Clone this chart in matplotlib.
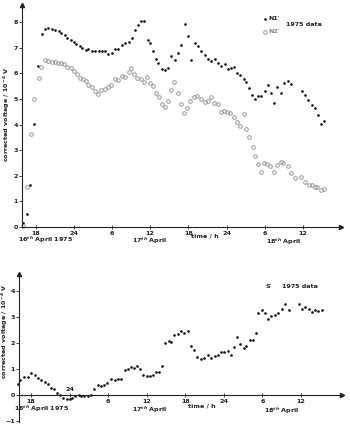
import matplotlib
matplotlib.use("Agg")
import matplotlib.pyplot as plt

# time in hours counted from 00:00 on 16 April 1975; values in 10^-4 V
n1_t = [16.0, 16.6, 17.15, 17.8, 18.4, 19.0, 19.5, 20.0, 20.5, 21.0, 21.6, 22.0, 22.6, 23.0,
        23.5, 24.0, 24.4, 24.9, 25.3, 25.9, 26.3, 26.9, 27.3, 27.9, 28.4, 28.9, 29.4, 30.0,
        30.4, 31.0, 31.5, 32.0, 32.6, 33.1, 33.6, 34.1, 34.6, 35.1, 35.6, 36.0, 36.5, 36.9,
        37.3, 37.9, 38.3, 38.8, 39.3, 39.9, 40.4, 40.9, 41.4, 41.9, 42.4, 43.0, 43.5, 44.0,
        44.6, 45.1, 45.6, 46.2, 46.7, 47.2, 47.7, 48.2, 48.7, 49.2, 49.7, 50.2, 50.7, 51.1,
        51.6, 52.0, 52.5, 53.0, 53.5, 54.0, 54.5, 55.0, 55.5, 56.0, 56.5, 57.1, 57.6, 58.2,
        59.8, 60.3, 60.8, 61.4, 61.9, 62.4, 62.8, 63.3]
n1_v = [0.16, 0.51, 1.64, 4.02, 6.30, 7.54, 7.73, 7.79, 7.72, 7.70, 7.66, 7.59, 7.50, 7.40,
        7.30, 7.24, 7.15, 7.06, 6.98, 6.93, 6.95, 6.89, 6.88, 6.89, 6.89, 6.88, 6.76, 6.80,
        6.94, 6.94, 7.11, 7.19, 7.24, 7.39, 7.71, 7.88, 8.05, 8.05, 7.30, 7.17, 6.88, 6.55,
        6.39, 6.18, 6.12, 6.21, 6.68, 6.54, 6.81, 7.12, 7.92, 7.47, 6.52, 7.17, 7.07, 6.88,
        6.71, 6.55, 6.50, 6.55, 6.42, 6.28, 6.38, 6.16, 6.21, 6.24, 6.03, 5.95, 5.78, 5.66,
        5.44, 5.16, 5.00, 5.10, 5.12, 5.32, 5.56, 5.25, 4.84, 5.46, 5.22, 5.63, 5.70, 5.59,
        5.31, 5.16, 4.96, 4.78, 4.66, 4.38, 4.04, 4.14]

n2_t = [16.0, 16.7, 17.2, 17.8, 18.5, 18.9, 19.5, 20.0, 20.5, 21.0, 21.5, 22.0, 22.5, 23.0,
        23.5, 24.0, 24.5, 25.0, 25.4, 25.9, 26.3, 26.8, 27.3, 27.8, 28.3, 28.9, 29.4, 29.9,
        30.5, 30.9, 31.5, 32.0, 32.6, 33.0, 33.5, 34.0, 34.5, 35.0, 35.5, 35.9, 36.4, 36.9,
        37.4, 37.9, 38.3, 38.8, 39.3, 39.8, 40.3, 40.8, 41.3, 41.8, 42.3, 42.9, 43.4, 44.0,
        44.6, 45.1, 45.6, 46.1, 46.7, 47.2, 47.6, 48.1, 48.6, 49.1, 49.7, 50.2, 50.7, 51.1,
        51.6, 52.1, 52.5, 53.0, 53.4, 53.9, 54.4, 54.9, 55.4, 56.0, 56.5, 56.9, 57.6, 58.1,
        58.7, 59.7, 60.3, 60.9, 61.4, 61.9, 62.3, 62.8, 63.3]
n2_v = [0.05, 1.55, 3.63, 5.00, 5.81, 6.25, 6.51, 6.48, 6.45, 6.45, 6.42, 6.39, 6.36, 6.26,
        6.20, 6.09, 5.98, 5.83, 5.77, 5.70, 5.53, 5.48, 5.30, 5.21, 5.35, 5.40, 5.46, 5.55,
        5.77, 5.74, 5.91, 5.87, 6.04, 6.20, 5.99, 5.81, 5.77, 5.65, 5.85, 5.61, 5.51, 5.23,
        5.09, 4.79, 4.69, 4.93, 5.35, 5.66, 5.22, 4.80, 4.46, 4.66, 4.93, 5.08, 5.12, 4.99,
        4.87, 4.92, 5.07, 4.84, 4.79, 4.49, 4.54, 4.49, 4.44, 4.31, 4.11, 3.95, 4.40, 3.82,
        3.50, 3.14, 2.77, 2.46, 2.16, 2.50, 2.47, 2.38, 2.15, 2.42, 2.53, 2.50, 2.38, 2.10,
        1.93, 1.94, 1.77, 1.65, 1.63, 1.56, 1.56, 1.43, 1.50]

s_t = [15.9, 16.3, 16.9, 17.5, 18.0, 18.6, 19.1, 19.6, 20.1, 20.6, 21.1, 21.6, 22.0, 22.5,
       23.0, 23.6, 24.0, 24.4, 24.8, 25.4, 25.8, 26.3, 26.8, 27.3, 27.8, 28.4, 28.9, 29.4,
       29.9, 30.5, 31.0, 31.5, 32.0, 32.6, 33.1, 33.6, 34.1, 34.5, 35.0, 35.5, 36.0, 36.5,
       37.0, 37.4, 37.9, 38.4, 38.9, 39.4, 39.8, 40.3, 40.8, 41.3, 41.8, 42.4, 42.9, 43.4,
       43.9, 44.4, 45.0, 45.5, 46.0, 46.6, 47.1, 47.6, 48.1, 48.6, 49.2, 49.6, 50.1, 50.6,
       51.1, 51.5, 52.1, 52.5, 53.0, 53.4, 53.9, 54.4, 54.9, 55.4, 55.9, 56.5, 57.0, 57.5,
       58.1, 59.7, 60.2, 60.7, 61.2, 61.7, 62.2, 62.7, 63.3]
s_v = [0.42, 0.57, 0.71, 0.71, 0.85, 0.77, 0.64, 0.58, 0.51, 0.44, 0.27, 0.22, 0.09, -0.01,
       -0.12, -0.14, -0.14, -0.12, -0.05, -0.01, -0.03, -0.03, -0.03, 0.01, 0.22, 0.40, 0.34,
       0.37, 0.45, 0.62, 0.59, 0.63, 0.63, 0.97, 1.00, 1.09, 1.05, 1.11, 1.02, 0.76, 0.75,
       0.75, 0.76, 0.88, 0.90, 1.11, 2.02, 2.08, 2.03, 2.30, 2.34, 2.48, 2.39, 2.47, 1.90,
       1.75, 1.46, 1.38, 1.42, 1.56, 1.44, 1.51, 1.56, 1.66, 1.65, 1.69, 1.56, 1.86, 2.25,
       1.97, 1.83, 1.90, 2.12, 2.11, 2.39, 3.17, 3.29, 3.17, 2.92, 3.06, 3.10, 3.17, 3.32,
       3.50, 3.28, 3.51, 3.32, 3.40, 3.31, 3.22, 3.29, 3.25, 3.28]

hour_ticks = [18, 24, 30, 36, 42, 48, 54, 60]
hour_labels = ["18", "24", "6", "12", "18", "24", "6", "12"]
day_labels = ["16$^{th}$ April 1975", "17$^{th}$ April", "18$^{th}$ April"]
ylabel = "corrected voltage / 10$^{-4}$ V"

W, H = 350, 425
FS = 4.6
INK = "#222222"
plt.rcParams["font.family"] = "DejaVu Sans"
plt.rcParams["font.weight"] = "bold"

fig = plt.figure(figsize=(3.5, 4.25), dpi=100)
ax1 = fig.add_axes([22 / W, 1 - 227 / H, 319 / W, 222 / H])
ax2 = fig.add_axes([19 / W, 1 - 422 / H, 323 / W, 148 / H])


def style_axes(ax):
    for side in ["top", "right"]:
        ax.spines[side].set_visible(False)
    for side in ["left", "bottom"]:
        ax.spines[side].set_linewidth(0.8)
        ax.spines[side].set_color(INK)
    ax.tick_params(axis="x", direction="inout", length=3, width=0.6, pad=1.2,
                   labelsize=FS, colors=INK)
    ax.tick_params(axis="y", direction="out", length=2, width=0.6, pad=1.0,
                   labelsize=FS, colors=INK)
    ax.set_xticks(hour_ticks)
    ax.set_xticklabels(hour_labels)


def below_axis(ax, x, dy_px, text):
    # text centred dy_px pixels under the line y = 0
    ax.annotate(text, xy=(x, 0), xytext=(0, -dy_px * 0.72), textcoords="offset points",
                ha="center", va="center", fontsize=FS, color=INK)


# ---- top panel: N1' and N2'
style_axes(ax1)
ax1.set_xlim(15.85, 66.0)
ax1.set_ylim(0, 8.67)
ax1.set_yticks(range(0, 9))
ax1.plot(n1_t, n1_v, "o", ms=1.9, color="#111111", mew=0, clip_on=False)
ax1.plot(n2_t, n2_v, "o", ms=2.6, mfc="none", mec="#999999", mew=0.7, clip_on=False)
ax1.plot(1, 0, ">", ms=3, color=INK, transform=ax1.transAxes, clip_on=False)
ax1.plot(0, 1, "^", ms=3, color=INK, transform=ax1.transAxes, clip_on=False)

below_axis(ax1, 19.5, 12.5, day_labels[0])
below_axis(ax1, 35.9, 13.5, day_labels[1])
below_axis(ax1, 56.9, 14.5, day_labels[2])
below_axis(ax1, 44.6, 9, "time / h")

ax1.plot([54.1], [8.13], "o", ms=1.9, color="#111111", mew=0)
ax1.plot([54.1], [7.62], "o", ms=2.6, mfc="none", mec="#999999", mew=0.7)
ax1.text(54.6, 8.13, "N1′", fontsize=FS, va="center", color=INK)
ax1.text(54.6, 7.62, "N2′", fontsize=FS, va="center", color="#888888")
ax1.text(57.3, 7.9, "1975 data", fontsize=FS, va="center", color=INK)

# ---- bottom panel: S'
style_axes(ax2)
ax2.set_xlim(16.13, 66.4)
ax2.set_ylim(-1.04, 4.67)
ax2.set_yticks(range(-1, 5))
ax2.spines["bottom"].set_position(("data", 0))
labels2 = list(hour_labels)
labels2[1] = ""
ax2.set_xticklabels(labels2)
ax2.plot(s_t, s_v, "o", ms=1.9, color="#111111", mew=0, clip_on=False)
ax2.plot(1, 0, ">", ms=3, color=INK, transform=ax2.get_yaxis_transform(), clip_on=False)
ax2.plot(0, 1, "^", ms=3, color=INK, transform=ax2.transAxes, clip_on=False)

# the first "24" sits above the axis in the original
ax2.annotate("24", xy=(hour_ticks[1], 0), xytext=(0, 5.5 * 0.72), textcoords="offset points",
             ha="center", va="center", fontsize=FS, color=INK)
below_axis(ax2, 19.7, 14, day_labels[0])
below_axis(ax2, 36.5, 15, day_labels[1])
below_axis(ax2, 57.0, 15.5, day_labels[2])
below_axis(ax2, 44.6, 10.5, "time / h")

ax2.text(54.5, 4.17, "S′", fontsize=FS, va="center", color=INK)
ax2.text(57.0, 4.17, "1975 data", fontsize=FS, va="center", color=INK)

fig.text(7 / W, 1 - 114 / H, ylabel, rotation=90, ha="center", va="center",
         fontsize=FS, color=INK)
fig.text(5 / W, 1 - 331 / H, ylabel, rotation=90, ha="center", va="center",
         fontsize=FS, color=INK)

fig.savefig("out.png", dpi=100)
